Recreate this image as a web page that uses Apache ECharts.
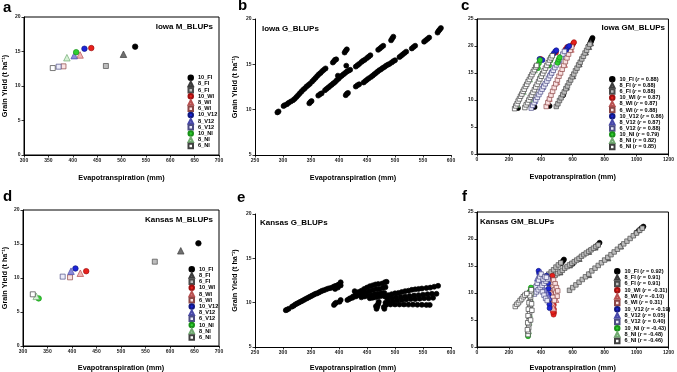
<!DOCTYPE html>
<html>
<head>
<meta charset="utf-8">
<script src="https://cdn.jsdelivr.net/npm/echarts@6/dist/echarts.min.js"></script>
<style>
  html, body { margin: 0; padding: 0; background: #fff; }
  #chart { width: 677px; height: 372px; }
</style>
</head>
<body>
<div id="chart"></div>
<script>
// treatment groups, same order in every panel
const groupNames = ['10_FI', '8_FI', '6_FI', '10_WI', '8_WI', '6_WI', '10_V12', '8_V12', '6_V12', '10_NI', '8_NI', '6_NI'];
const iowaR = ['0.88', '0.88', '0.88', '0.87', '0.87', '0.88', '0.86', '0.87', '0.88', '0.79', '0.82', '0.85'];
const kansasR = ['0.92', '0.91', '0.91', '-0.31', '-0.10', '0.31', '-0.19', '0.05', '0.40', '-0.43', '-0.48', '-0.46'];

// a) Iowa M_BLUPs
const iowaM_et = [528, 504, 468, 438, 415, 381, 424, 403, 371, 407, 388, 359];
const iowaM_yield = [15.7, 14.6, 12.9, 15.5, 14.5, 12.85, 15.4, 14.4, 12.8, 14.9, 14.1, 12.6];

// d) Kansas M_BLUPs
const kansasM_et = [658, 622, 569, 429, 417, 396, 407, 398, 381, 332, 327, 320];
const kansasM_yield = [15.1, 14.0, 12.4, 11.0, 10.7, 10.1, 11.4, 11.0, 10.2, 7.0, 7.3, 7.6];

// b) Iowa G_BLUPs  [ET, yield]
const iowaG_points = [
  [290, 9.7], [292, 9.8], [301, 10.4], [303, 10.5], [307, 10.6], [310, 10.75], [314, 10.9], [318, 11.05],
  [321, 11.2], [324, 11.4], [327, 11.6], [330, 11.8], [333, 12.0], [336, 12.2], [339, 12.35], [342, 12.55],
  [345, 12.7], [348, 12.85], [352, 13.1], [355, 13.3], [358, 13.5], [361, 13.7], [364, 13.9], [367, 14.05],
  [370, 14.25], [373, 14.4], [376, 14.55], [389, 15.2], [391, 15.35], [393, 15.5], [395, 15.55],
  [410, 16.3], [412, 16.5], [414, 16.65],
  [347, 10.7], [349, 10.85], [351, 10.95], [363, 11.55], [366, 11.7], [369, 11.8], [375, 12.15], [378, 12.3],
  [381, 12.45], [384, 12.6], [387, 12.75], [390, 12.9], [393, 13.05], [396, 13.25], [399, 13.4], [402, 13.6],
  [405, 13.75], [408, 13.9], [411, 14.05], [414, 14.2], [417, 14.3], [420, 14.4], [430, 14.75], [433, 14.9],
  [436, 15.05], [440, 15.25], [443, 15.4], [446, 15.5], [450, 15.7], [453, 15.85], [456, 16.0], [470, 16.6],
  [473, 16.75], [476, 16.9], [479, 17.05], [493, 17.65], [495, 17.85], [497, 18.05], [398, 13.75], [413, 14.85],
  [412, 11.6], [414, 11.75], [416, 11.85], [430, 12.55], [433, 12.7], [436, 12.8], [444, 13.0], [447, 13.15],
  [450, 13.3], [453, 13.45], [457, 13.6], [460, 13.75], [463, 13.9], [466, 14.05], [469, 14.2], [472, 14.35],
  [475, 14.45], [478, 14.6], [481, 14.7], [484, 14.85], [487, 14.95], [490, 15.05], [494, 15.2], [497, 15.35],
  [500, 15.45], [508, 15.8], [511, 15.95], [514, 16.1], [517, 16.25], [520, 16.4], [530, 16.75], [533, 16.9],
  [536, 17.05], [552, 17.5], [555, 17.65], [558, 17.8], [561, 17.95], [576, 18.5], [578, 18.7], [580, 18.85], [582, 19.0]
];

// e) Kansas G_BLUPs  [ET, yield]
const kansasG_points = [
  [305, 9.15], [307, 9.2], [310, 9.3], [316, 9.55], [319, 9.65], [322, 9.8], [325, 9.9], [328, 10.0],
  [331, 10.1], [334, 10.2], [337, 10.3], [340, 10.4], [343, 10.5], [346, 10.6], [349, 10.7], [352, 10.8],
  [355, 10.9], [358, 11.0], [361, 11.05], [364, 11.15], [367, 11.25], [370, 11.35], [373, 11.4], [377, 11.5],
  [381, 11.6], [385, 11.65], [389, 11.75], [392, 11.85], [395, 11.9], [398, 12.0], [401, 12.1], [403, 12.3],
  [393, 11.55], [398, 11.7], [403, 11.95], [391, 9.75], [393, 9.9], [395, 10.0], [401, 10.1], [403, 10.3],
  [415, 10.3], [420, 10.5], [425, 10.7], [430, 10.95], [435, 11.2], [440, 11.35], [445, 11.55], [450, 11.7],
  [455, 11.85], [460, 11.95], [465, 12.05], [470, 12.1], [477, 12.15], [482, 12.3], [485, 12.35], [428, 11.3],
  [418, 10.4], [424, 10.55], [430, 10.7], [436, 10.85], [442, 11.0], [448, 11.15], [454, 11.3], [460, 11.4],
  [466, 11.5], [472, 11.55], [478, 11.65], [483, 11.75],
  [440, 10.6], [446, 10.7], [452, 10.8], [458, 10.85], [464, 10.95], [470, 11.0], [476, 11.05], [481, 11.1],
  [455, 10.5], [460, 10.55], [465, 10.6], [470, 10.7], [475, 10.75],
  [467, 9.3], [468, 9.5], [469, 9.7], [470, 9.9], [471, 10.1], [466, 9.6],
  [482, 10.7], [488, 10.85], [494, 10.95], [500, 11.05], [506, 11.1], [512, 11.2], [518, 11.3], [524, 11.35],
  [530, 11.45], [536, 11.5], [542, 11.55], [548, 11.6], [556, 11.65], [563, 11.7], [570, 11.8], [577, 11.9],
  [486, 10.5], [494, 10.55], [502, 10.6], [510, 10.65], [518, 10.7], [526, 10.75], [534, 10.8], [542, 10.85],
  [550, 10.9], [558, 10.95], [566, 11.0], [574, 11.0],
  [488, 10.15], [496, 10.2], [504, 10.25], [512, 10.3], [520, 10.35], [528, 10.4], [536, 10.4], [544, 10.45],
  [552, 10.5], [560, 10.5], [568, 10.55],
  [484, 9.75], [492, 9.8], [500, 9.8], [508, 9.8], [516, 9.8], [524, 9.78], [532, 9.78], [540, 9.77],
  [548, 9.76], [556, 9.75], [562, 9.75], [480, 9.5], [481, 9.3], [483, 10.0]
];

// c) Iowa GM_BLUPs, one list per group  [ET, yield]
const iowaGM_10_FI = [[257, 8.5], [361, 8.7], [455, 8.9], [540, 10.9], [700, 20.0], [712, 20.6], [715, 20.9], [720, 21.2], [724, 21.5]];
const iowaGM_8_FI = [[560, 12.4], [600, 14.5], [640, 16.7], [680, 18.9], [700, 19.9], [712, 20.6]];
const iowaGM_6_FI = [[497, 8.8], [507, 9.3], [517, 9.9], [527, 10.4], [537, 11.0], [547, 11.5], [557, 12.1], [567, 12.6],
  [577, 13.2], [587, 13.7], [597, 14.3], [607, 14.8], [617, 15.4], [627, 15.9], [637, 16.5], [647, 17.0],
  [657, 17.6], [667, 18.1], [677, 18.7], [687, 19.2], [697, 19.8], [707, 20.3]];
const iowaGM_10_WI = [[400, 17.6], [495, 18.8], [555, 19.4], [565, 19.8], [585, 19.6], [598, 20.2], [604, 20.5], [608, 20.7]];
const iowaGM_8_WI = [[452, 10.3], [500, 13.4], [548, 16.6], [590, 19.4]];
const iowaGM_6_WI = [[434, 8.8], [444, 9.5], [454, 10.2], [464, 10.9], [474, 11.6], [484, 12.3], [494, 13.0], [504, 13.7],
  [514, 14.4], [524, 15.0], [534, 15.7], [544, 16.4], [554, 17.1], [564, 17.8], [574, 18.5], [584, 19.2], [594, 19.8]];
const iowaGM_10_V12 = [[392, 17.6], [410, 17.4], [480, 18.6], [490, 19.0], [497, 19.2], [560, 19.3], [570, 19.8], [578, 20.0]];
const iowaGM_8_V12 = [[360, 9.9], [410, 12.5], [460, 15.1], [510, 17.4]];
const iowaGM_6_V12 = [[340, 8.5], [349, 9.0], [358, 9.5], [368, 10.0], [378, 10.5], [388, 11.0], [398, 11.5], [408, 12.0],
  [418, 12.5], [428, 13.0], [438, 13.5], [448, 14.0], [458, 14.5], [468, 15.0], [478, 15.5], [488, 16.0],
  [498, 16.5], [508, 17.0], [518, 17.5], [528, 18.0], [538, 18.5], [548, 19.0]];
const iowaGM_10_NI = [[382, 15.9], [388, 16.8], [395, 17.4], [452, 16.4], [460, 17.3], [466, 18.0], [505, 16.9], [512, 17.5], [518, 17.9]];
const iowaGM_8_NI = [[250, 9.2], [290, 11.6], [330, 13.9], [360, 15.6], [330, 10.2], [400, 14.8]];
const iowaGM_6_NI = [[236, 8.4], [243, 8.9], [251, 9.3], [258, 9.8], [266, 10.2], [273, 10.7], [281, 11.1], [289, 11.6],
  [296, 12.0], [304, 12.5], [312, 12.9], [320, 13.4], [328, 13.8], [336, 14.3], [344, 14.7], [352, 15.2],
  [360, 15.6], [368, 16.1], [374, 16.4],
  [300, 8.6], [308, 9.1], [317, 9.5], [325, 10.0], [334, 10.5], [342, 10.9], [351, 11.4], [360, 11.9],
  [368, 12.4], [377, 12.9], [386, 13.4], [394, 13.9], [403, 14.4], [412, 14.9], [420, 15.4], [429, 15.9],
  [438, 16.4], [447, 16.9], [455, 17.4], [464, 17.8], [472, 18.2]];

// f) Kansas GM_BLUPs, one list per group  [ET, yield]
const kansasGM_10_FI = [[528, 15.5], [538, 15.9], [545, 16.2], [600, 15.4], [745, 18.6], [758, 18.9], [768, 19.3],
  [1000, 21.2], [1015, 21.6], [1030, 22.0], [1043, 22.3]];
const kansasGM_8_FI = [[470, 12.9], [520, 13.9], [580, 15.2], [640, 16.4], [700, 17.7], [740, 18.5],
  [700, 13.4], [820, 16.5], [900, 18.7]];
const kansasGM_6_FI = [[330, 10.1], [345, 10.5], [360, 10.9], [375, 11.3], [390, 11.8], [405, 12.2], [420, 12.6], [435, 13.1],
  [450, 13.5], [465, 13.9], [480, 14.3], [495, 14.8], [510, 15.2], [525, 15.6],
  [460, 12.7], [475, 13.0], [490, 13.3], [505, 13.6], [520, 13.9], [535, 14.2], [550, 14.6], [565, 14.9],
  [580, 15.2], [595, 15.5], [610, 15.8], [625, 16.1], [640, 16.4], [655, 16.8], [670, 17.1], [685, 17.4],
  [700, 17.7], [715, 18.0], [730, 18.3], [745, 18.6], [760, 18.9],
  [580, 10.5], [600, 11.0], [620, 11.5], [640, 12.0], [660, 12.5], [680, 13.0], [700, 13.5], [720, 14.1],
  [740, 14.6], [760, 15.1], [780, 15.6], [800, 16.1], [820, 16.6], [840, 17.1], [860, 17.6], [880, 18.1],
  [900, 18.6], [920, 19.1], [940, 19.6], [960, 20.1], [980, 20.6], [1000, 21.1], [1020, 21.6], [1036, 22.0]];
const kansasGM_10_WI = [[470, 12.8], [472, 13.2], [474, 12.4], [476, 11.5], [478, 10.6], [479, 9.6], [480, 8.7], [481, 7.8],
  [482, 7.0], [483, 6.4], [480, 6.0], [476, 6.5]];
const kansasGM_8_WI = [[460, 12.0], [465, 11.0], [468, 10.0], [472, 9.0], [475, 8.0], [478, 7.2], [488, 9.8], [495, 8.8]];
const kansasGM_6_WI = [[470, 11.8], [478, 11.2], [486, 10.6], [494, 10.0], [502, 9.4], [480, 12.4], [490, 11.7], [498, 11.0],
  [506, 10.4], [475, 9.2], [485, 8.6]];
const kansasGM_10_V12 = [[386, 14.1], [390, 13.6], [394, 13.0], [398, 12.4], [436, 13.2], [442, 12.7], [446, 11.8], [448, 10.8],
  [450, 9.8], [452, 8.8], [454, 7.9], [455, 7.2]];
const kansasGM_8_V12 = [[380, 12.8], [392, 12.1], [404, 12.4], [416, 11.0], [428, 10.4], [440, 9.8], [448, 9.2], [400, 13.8], [430, 12.5]];
const kansasGM_6_V12 = [[362, 10.6], [370, 11.2], [378, 11.8], [386, 12.4], [394, 13.0], [402, 13.5], [360, 9.8], [372, 10.2],
  [384, 10.6], [396, 11.0], [408, 11.4], [420, 11.8], [432, 12.2], [444, 12.6], [410, 10.2], [420, 9.6],
  [430, 9.0], [440, 8.6], [415, 12.6], [425, 13.0], [435, 12.9]];
const kansasGM_10_NI = [[320, 2.0], [322, 2.5], [333, 9.8], [335, 10.4], [338, 11.0]];
const kansasGM_8_NI = [[323, 3.0], [326, 4.6], [329, 6.2], [332, 7.6], [335, 9.0], [338, 10.2]];
const kansasGM_6_NI = [[320, 2.3], [322, 2.9], [324, 3.6], [325, 4.3], [327, 5.0], [328, 5.7], [330, 6.4], [331, 7.1],
  [333, 7.8], [334, 8.5], [336, 9.2], [338, 9.9], [340, 10.6], [316, 3.2], [318, 4.5], [320, 5.8],
  [322, 7.0], [326, 8.2], [330, 9.5], [344, 6.8], [342, 8.0], [336, 5.0],
  [240, 7.5], [250, 7.9], [260, 8.2], [270, 8.6], [280, 8.9], [290, 9.3], [300, 9.6], [312, 9.9]];

const iowaGM = [iowaGM_10_FI, iowaGM_8_FI, iowaGM_6_FI, iowaGM_10_WI, iowaGM_8_WI, iowaGM_6_WI,
  iowaGM_10_V12, iowaGM_8_V12, iowaGM_6_V12, iowaGM_10_NI, iowaGM_8_NI, iowaGM_6_NI];
const kansasGM = [kansasGM_10_FI, kansasGM_8_FI, kansasGM_6_FI, kansasGM_10_WI, kansasGM_8_WI, kansasGM_6_WI,
  kansasGM_10_V12, kansasGM_8_V12, kansasGM_6_V12, kansasGM_10_NI, kansasGM_8_NI, kansasGM_6_NI];

// marker look per group
const markerStyles = [
  { symbol: 'circle', color: '#000000', border: '#000000' },
  { symbol: 'triangle', color: '#707070', border: '#3c3c3c' },
  { symbol: 'rect', color: '#bdbdbd', border: '#4a4a4a' },
  { symbol: 'circle', color: '#e8201c', border: '#a01010' },
  { symbol: 'triangle', color: '#f0b4b4', border: '#b85050' },
  { symbol: 'rect', color: '#fae2e2', border: '#8c4646' },
  { symbol: 'circle', color: '#1c24d8', border: '#101880' },
  { symbol: 'triangle', color: '#8c8cdc', border: '#4848a8' },
  { symbol: 'rect', color: '#ececfa', border: '#4c4c84' },
  { symbol: 'circle', color: '#30d030', border: '#189018' },
  { symbol: 'triangle', color: '#d6f2d6', border: '#70a870' },
  { symbol: 'rect', color: '#ffffff', border: '#404040' }
];

const FONT = 'Liberation Sans, Arial, Helvetica, sans-serif';
const chart = echarts.init(document.getElementById('chart'));

const series = [];
function addScatter(name, grid, data, st, size) {
  let s = size;
  if (st.symbol === 'triangle') s = size + 1;
  if (st.symbol === 'rect') s = size - 0.5;
  series.push({
    type: 'scatter',
    name: name,
    xAxisIndex: grid,
    yAxisIndex: grid,
    data: data,
    symbol: st.symbol,
    symbolSize: s,
    itemStyle: { color: st.color, borderColor: st.border, borderWidth: 0.7, opacity: 1 },
    emphasis: { disabled: true },
    animation: false
  });
}

const iowaNames = groupNames.map((g, i) => g + ' (r = ' + iowaR[i] + ')');
const kansasNames = groupNames.map((g, i) => g + ' (r = ' + kansasR[i] + ')');

groupNames.forEach((g, i) => addScatter(g, 0, [[iowaM_et[i], iowaM_yield[i]]], markerStyles[i], 5.5));
addScatter('Iowa G', 1, iowaG_points, { symbol: 'circle', color: '#000', border: '#000' }, 5);
groupNames.forEach((g, i) => addScatter(iowaNames[i], 2, iowaGM[i], markerStyles[i], 5));
groupNames.forEach((g, i) => addScatter(g, 3, [[kansasM_et[i], kansasM_yield[i]]], markerStyles[i], 5.5));
addScatter('Kansas G', 4, kansasG_points, { symbol: 'circle', color: '#000', border: '#000' }, 5);
groupNames.forEach((g, i) => addScatter(kansasNames[i], 5, kansasGM[i], markerStyles[i], 5));

// plain tick numbers, no thousands separator
const plain = v => String(v);

function xAx(grid, min, max, interval, gap) {
  return {
    gridIndex: grid, type: 'value', min: min, max: max, interval: interval,
    name: 'Evapotranspiration (mm)', nameLocation: 'middle', nameGap: gap,
    nameTextStyle: { fontSize: 7.3, fontWeight: 'bold', color: '#000', fontFamily: FONT },
    axisLine: { onZero: false, lineStyle: { color: '#000', width: 1 } },
    axisTick: { length: 2.5, lineStyle: { color: '#000', width: 0.8 } },
    axisLabel: { fontSize: 5, fontWeight: 'bold', color: '#222', margin: 3.5, fontFamily: FONT, formatter: plain },
    splitLine: { show: false }
  };
}
function yAx(grid, min, max, interval, gap) {
  return {
    gridIndex: grid, type: 'value', min: min, max: max, interval: interval,
    name: gap ? 'Grain Yield (t ha\u207B\u00B9)' : '', nameLocation: 'middle', nameGap: gap || 0, nameRotate: 90,
    nameTextStyle: { fontSize: 7.3, fontWeight: 'bold', color: '#000', fontFamily: FONT },
    axisLine: { onZero: false, lineStyle: { color: '#000', width: 1 } },
    axisTick: { length: 2.5, lineStyle: { color: '#000', width: 0.8 } },
    axisLabel: { fontSize: 5, fontWeight: 'bold', color: '#222', margin: 3.5, fontFamily: FONT, formatter: plain },
    splitLine: { show: false }
  };
}

const framed = { show: true, borderColor: '#000', borderWidth: 1, backgroundColor: 'transparent' };
const grids = [
  Object.assign({ left: 23, top: 17, width: 196, height: 138 }, framed),
  { left: 255, top: 19, width: 196, height: 136 },
  Object.assign({ left: 477, top: 19, width: 192, height: 135 }, framed),
  Object.assign({ left: 23, top: 210, width: 196, height: 138 }, framed),
  { left: 255, top: 214, width: 196, height: 134 },
  Object.assign({ left: 477, top: 212, width: 194, height: 135 }, framed)
];

function legendAt(left, top, names, gap) {
  return {
    orient: 'vertical', left: left, top: top, padding: 0,
    itemWidth: 4.5, itemHeight: 4.5, itemGap: gap,
    selectedMode: false,
    data: names,
    formatter: function (name) { return name.replace('(r =', '({it|r} ='); },
    textStyle: {
      fontSize: 5.6, fontWeight: 'bold', color: '#000', lineHeight: 6, fontFamily: FONT,
      rich: { it: { fontSize: 5.6, lineHeight: 6, fontWeight: 'bold', fontStyle: 'italic', color: '#000', fontFamily: FONT } }
    }
  };
}

function label(text, x, y, size, align) {
  return {
    type: 'text', x: x, y: y, silent: true,
    style: { text: text, fill: '#000', font: 'bold ' + size + 'px ' + FONT, textAlign: align || 'left', textVerticalAlign: 'middle' }
  };
}

chart.setOption({
  animation: false,
  textStyle: { fontFamily: FONT },
  grid: grids,
  xAxis: [
    xAx(0, 300, 700, 50, 19),
    xAx(1, 250, 600, 50, 19),
    xAx(2, 0, 1200, 200, 19),
    xAx(3, 300, 700, 50, 18),
    xAx(4, 250, 600, 50, 17),
    xAx(5, 0, 1200, 200, 17)
  ],
  yAxis: [
    yAx(0, 0, 20, 5, 16),
    yAx(1, 5, 20, 5, 17),
    yAx(2, 0, 25, 5, 0),
    yAx(3, 0, 20, 5, 15),
    yAx(4, 5, 20, 5, 17),
    yAx(5, 0, 25, 5, 0)
  ],
  legend: [
    legendAt(187.5, 74.5, groupNames, -0.3),
    legendAt(609, 76, iowaNames, -0.35),
    legendAt(188.5, 266, groupNames, -0.3),
    legendAt(614, 268, kansasNames, -0.17)
  ],
  graphic: [
    label('a', 3, 8, 15),
    label('b', 238, 6, 15),
    label('c', 461, 6, 15),
    label('d', 3, 197, 15),
    label('e', 237, 198, 15),
    label('f', 462, 197, 15),
    label('Iowa M_BLUPs', 213, 27, 8, 'right'),
    label('Iowa G_BLUPs', 262, 29, 8),
    label('Iowa GM_BLUPs', 665, 28, 8, 'right'),
    label('Kansas M_BLUPs', 213, 220, 8, 'right'),
    label('Kansas G_BLUPs', 260, 223, 8),
    label('Kansas GM_BLUPs', 480, 222, 8)
  ],
  series: series
});
</script>
</body>
</html>
